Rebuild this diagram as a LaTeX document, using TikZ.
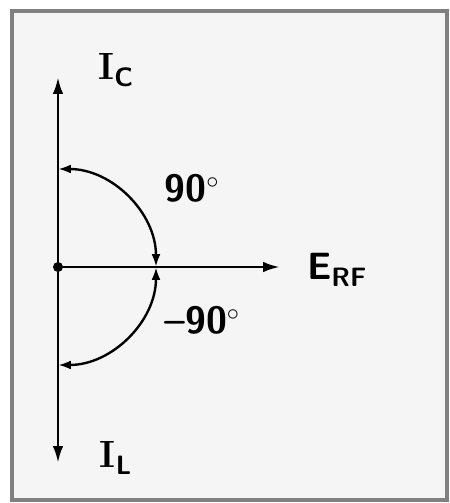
\documentclass[tikz,border=0pt]{standalone}
\usepackage{tikz}
\usetikzlibrary{arrows.meta}

\begin{document}
\begin{tikzpicture}[x=0.025cm, y=-0.025cm,
  axis/.style={-{Latex[length=0.42cm,width=0.26cm]}, line width=2pt},
  turn/.style={{Latex[length=0.32cm,width=0.22cm]}-{Latex[length=0.32cm,width=0.22cm]}, line width=1.7pt},
  lbl/.style={font=\sffamily\bfseries\fontsize{27}{30}\selectfont}]
  \fill[white] (0,0) rectangle (449,503);
  \useasboundingbox (0,0) rectangle (449,503);
  \draw[line width=2.2pt, black!50, fill=black!4] (12,11) rectangle (447,500);
  \coordinate (O) at (58,267);
  \coordinate (Ctip) at (58,77);
  \coordinate (Ltip) at (58,463);
  \coordinate (Etip) at (280,267);
  \draw[axis] (O) -- (Ctip);
  \draw[axis] (O) -- (Ltip);
  \draw[axis] (O) -- (Etip);
  \fill (O) circle (5);
  \draw[turn] (O) ++(98,0) arc[start angle=0, end angle=-90, radius=98];
  \draw[turn] (O) ++(98,0) arc[start angle=0, end angle=90, radius=98];
  \node[lbl] (ic) at (116,70) {\textrm{I}\textsubscript{C}};
  \node[lbl] (il) at (116,458) {\textrm{I}\textsubscript{L}};
  \node[lbl] (erf) at (337,270) {E\textsubscript{RF}};
  \node[lbl] (plus) at (192,188) {90$^\circ$};
  \node[lbl] (minus) at (202,320) {\textendash90$^\circ$};
\end{tikzpicture}
\end{document}
